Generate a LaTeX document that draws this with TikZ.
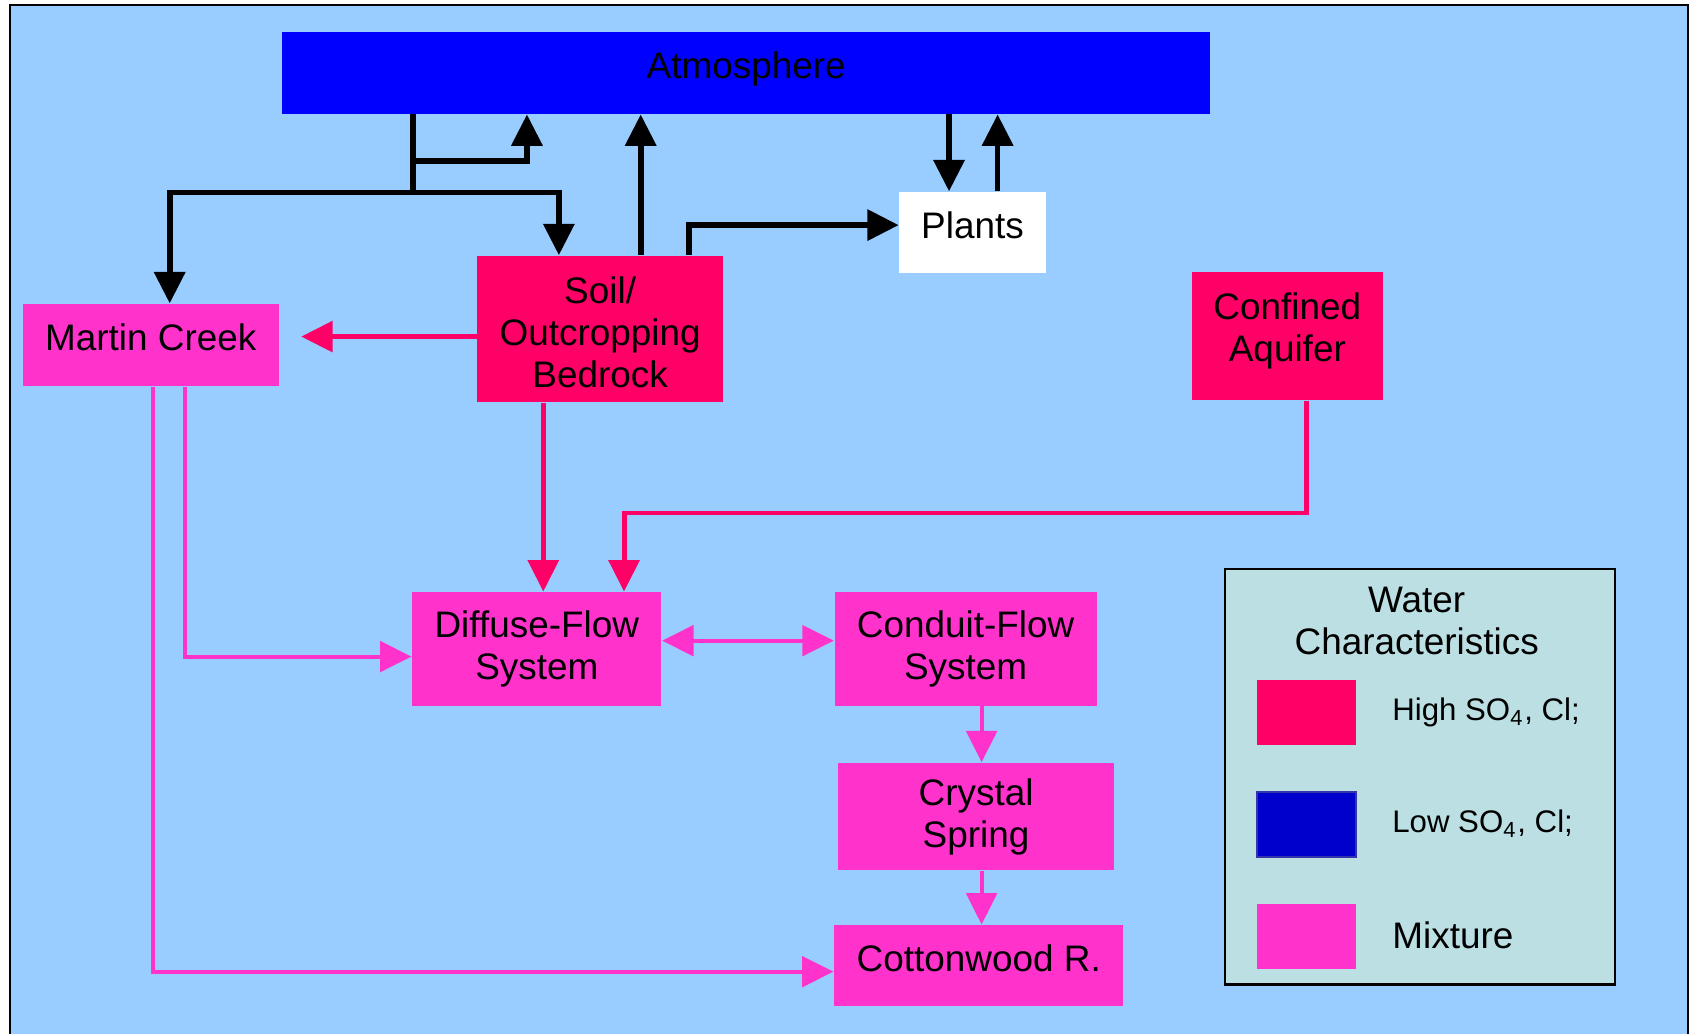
\documentclass[tikz,border=0pt]{standalone}
\usepackage{fontspec}
\setmainfont{Liberation Sans}
\usetikzlibrary{arrows.meta}

\definecolor{skyback}{HTML}{99CCFF}
\definecolor{atmosblue}{HTML}{0000FF}
\definecolor{highred}{HTML}{FF0066}
\definecolor{mixpink}{HTML}{FF33CC}
\definecolor{lowblue}{HTML}{0000CC}
\definecolor{lowedge}{HTML}{3333AA}
\definecolor{legendfill}{HTML}{BBDFE2}

\newcommand{\mainsize}{\fontsize{9.7}{11.1}\selectfont}
\newcommand{\keysize}{\fontsize{8.2}{9.8}\selectfont}

\tikzset{
  box/.style={rectangle, inner sep=0pt, align=center, font=\mainsize},
  highbox/.style={box, fill=highred},
  mixbox/.style={box, fill=mixpink},
  oneline/.style={text depth=0.14cm},
  swatch/.style={rectangle, inner sep=0pt, minimum width=0.91cm, minimum height=0.6cm},
  keytext/.style={anchor=base west, inner sep=0pt},
  blkline/.style={line width=1.5pt, black},
  redline/.style={line width=1.3pt, highred},
  mixline/.style={line width=1.1pt, mixpink},
}

\begin{document}
\begin{tikzpicture}[x=0.01cm, y=-0.01cm, >={Triangle[length=0.29cm,width=0.28cm]}]
    \useasboundingbox (0,0) rectangle (1568,955);
    \clip (0,0) rectangle (1568,955);
    \filldraw[fill=skyback, draw=black, line width=0.5pt] (9,5) rectangle (1560,990);

    % boxes
    \node[box, fill=atmosblue, oneline, minimum width=8.57cm, minimum height=0.754cm] (atmos) at (689.5,67.3) {Atmosphere};
    \node[box, fill=white, oneline, minimum width=1.35cm, minimum height=0.75cm] (plants) at (898.6,215) {Plants};
    \node[highbox, minimum width=2.266cm, minimum height=1.347cm] (soil) at (554.5,303.9) {\rule{0pt}{0.31cm}Soil/\\Outcropping\\Bedrock};
    \node[mixbox, oneline, minimum width=2.365cm, minimum height=0.755cm] (martin) at (139.3,318.8) {Martin Creek};
    \node[highbox, minimum width=1.77cm, minimum height=1.19cm] (confined) at (1189.5,310.5) {Confined\\Aquifer\rule[-0.17cm]{0pt}{0.17cm}};
    \node[mixbox, minimum width=2.3cm, minimum height=1.045cm] (diffuse) at (496,599.6) {Diffuse-Flow\\System};
    \node[mixbox, minimum width=2.42cm, minimum height=1.045cm] (conduit) at (892.2,599.6) {Conduit-Flow\\System};
    \node[mixbox, minimum width=2.55cm, minimum height=0.99cm] (crystal) at (901.9,754.6) {Crystal\\Spring};
    \node[mixbox, oneline, minimum width=2.67cm, minimum height=0.745cm] (cotton) at (904.4,892.3) {Cottonwood R.};

    % black fluxes
    \coordinate (jn) at (381.5,178);
    \coordinate (jl) at (156.8,178);
    \coordinate (jr) at (516.4,178);
    \coordinate (jb) at (381.5,148.8);
    \coordinate (ja) at (486.9,148.8);
    \draw[blkline] (atmos.south -| jn) -- (jn);
    \draw[blkline, ->] (jn) -- (jl) -- (martin.north -| jl);
    \draw[blkline, ->] (jn) -- (jr) -- (soil.north -| jr);
    \draw[blkline, ->] (jb) -- (ja) -- (atmos.south -| ja);
    \draw[blkline, ->] (soil.north -| 592,0) -- (atmos.south -| 592,0);
    \draw[blkline, ->] (soil.north -| 636.9,0) |- ([yshift=0.07cm]plants.west);
    \draw[blkline, ->] (atmos.south -| 876.9,0) -- (plants.north -| 876.9,0);
    \draw[blkline, ->] (plants.north -| 921.8,0) -- (atmos.south -| 921.8,0);

    % high SO4 fluxes
    \coordinate (cj) at (576.6,474);
    \draw[redline, ->, shorten >=0.2cm] (soil.west |- 0,311) -- (martin.east |- 0,311);
    \draw[redline, ->] (soil.south -| 502,0) -- (diffuse.north -| 502,0);
    \draw[redline, ->] (confined.south -| 1207,0) |- (cj) -- (diffuse.north -| cj);

    % mixture fluxes
    \coordinate (mj) at (170.6,606.7);
    \coordinate (mk) at (141,897.8);
    \draw[mixline, ->] (martin.south -| mj) |- (diffuse.west |- mj);
    \draw[mixline, ->] (martin.south -| mk) |- (cotton.west |- mk);
    \draw[mixline, <->] (diffuse.east |- 0,592) -- (conduit.west |- 0,592);
    \draw[mixline, ->] (conduit.south -| 907,0) -- (crystal.north -| 907,0);
    \draw[mixline, ->] (crystal.south -| 907,0) -- (cotton.north -| 907,0);

    % legend
    \node[draw=black, line width=0.6pt, fill=legendfill, inner sep=0pt, minimum width=3.6cm, minimum height=3.835cm] (legend) at (1312,717.7) {};
    \node[box] (keytitle) at (1309,574) {Water\\Characteristics};
    \node[swatch, fill=highred] (keyhigh) at (1207.2,658.5) {};
    \node[swatch, fill=lowblue, draw=lowedge, line width=0.6pt] (keylow) at (1207.2,762.1) {};
    \node[swatch, fill=mixpink] (keymix) at (1207.2,865.4) {};
    \node[keytext, font=\keysize] (keyhightext) at (1285.8,666) {High SO\textsubscript{4}, Cl;};
    \node[keytext, font=\keysize] (keylowtext) at (1285.8,769.4) {Low SO\textsubscript{4}, Cl;};
    \node[keytext, font=\mainsize] (keymixtext) at (1285.8,876.2) {Mixture};
\end{tikzpicture}
\end{document}
